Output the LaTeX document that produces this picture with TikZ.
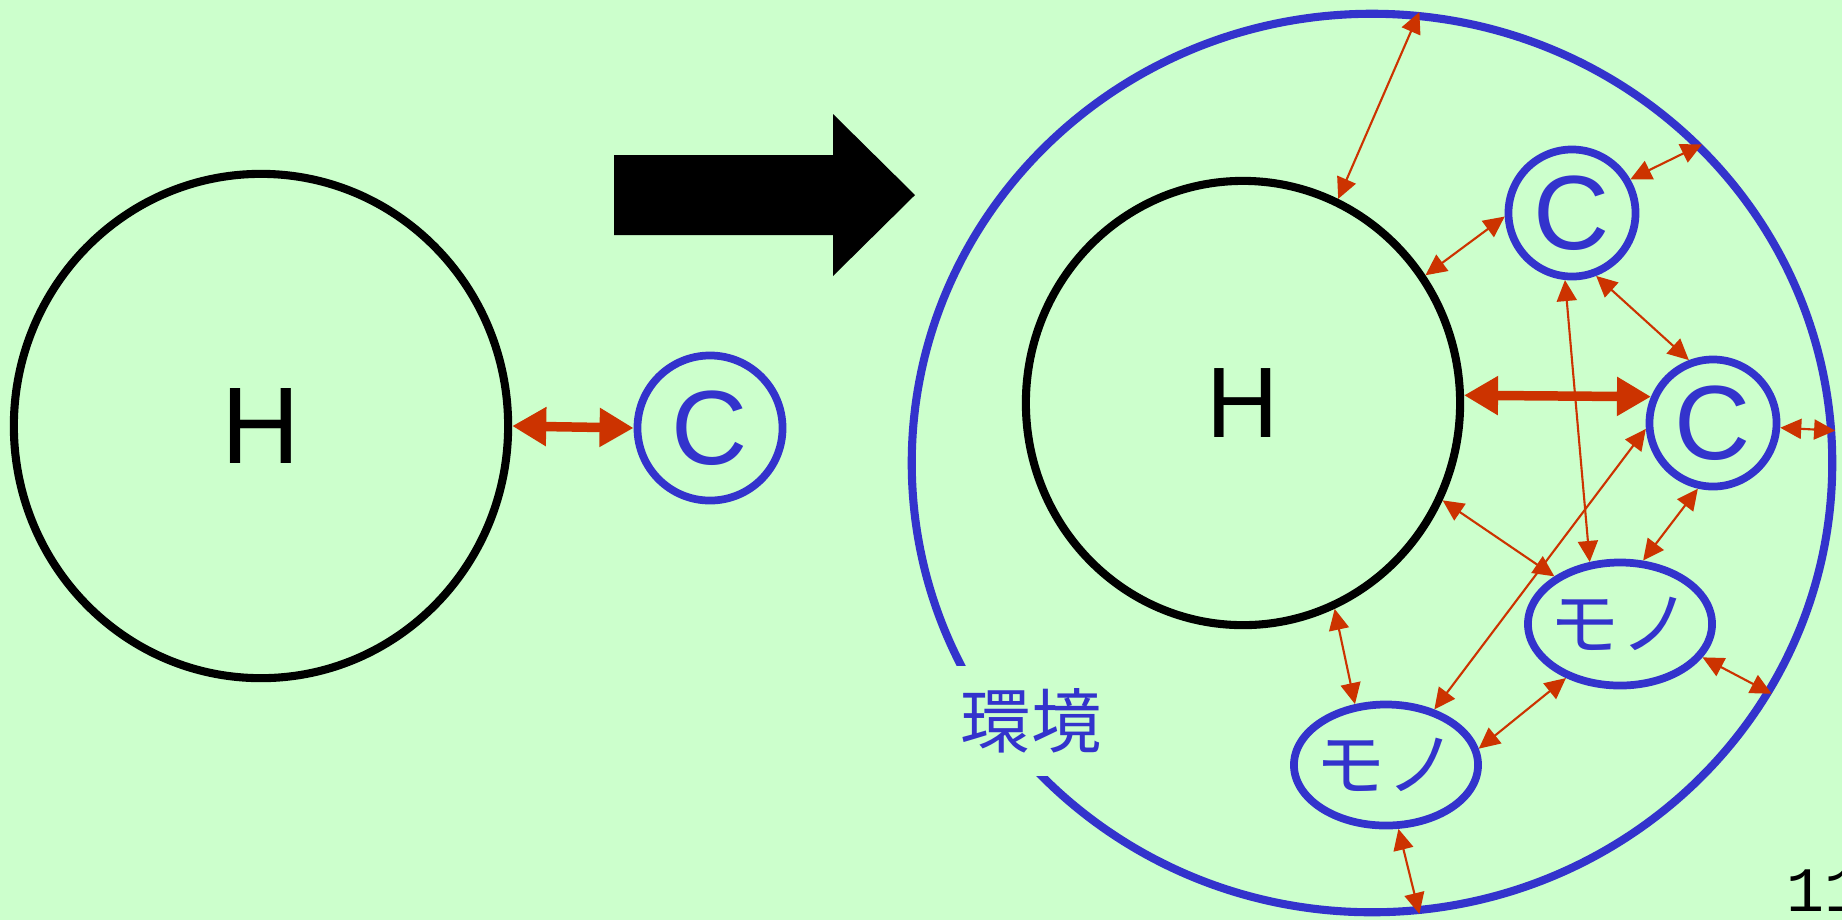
\documentclass[tikz,border=0pt]{standalone}
\usepackage{fontspec}
\setmainfont{Liberation Sans}
\newfontfamily\jpfont{Noto Sans CJK JP}
\newfontfamily\numfont{Liberation Mono}
\usetikzlibrary{shapes.geometric, arrows.meta}
\definecolor{bgreen}{HTML}{CCFFCC}
\definecolor{cblue}{HTML}{3333CC}
\definecolor{ared}{HTML}{CC3300}

\begin{document}
\begin{tikzpicture}[x=0.01cm, y=-0.01cm,
  human/.style={ellipse, draw=black, line width=2.3pt, inner sep=0pt,
                font=\fontsize{31}{31}\selectfont},
  comp/.style={circle, draw=cblue, line width=2.2pt, inner sep=0pt, minimum size=1.27cm,
               text=cblue, font=\fontsize{30}{30}\selectfont},
  thing/.style={ellipse, draw=cblue, line width=2.2pt, inner sep=0pt,
                minimum width=1.84cm, minimum height=1.23cm,
                label={[text=cblue, font=\jpfont\fontsize{20}{20}\selectfont]center:#1}},
  link/.style={draw=ared, line width=0.6pt,
               {Triangle[length=2.1mm,width=2mm]}-{Triangle[length=2.1mm,width=2mm]}},
  biglink/.style={draw=ared, line width=2.7pt,
                  {Triangle[length=3.4mm,width=3.7mm]}-{Triangle[length=3.4mm,width=3.7mm]}},
]
  \path[use as bounding box, fill=bgreen] (0,0) rectangle (1842,920);

  % before
  \node[human, minimum width=4.94cm, minimum height=5.04cm] (h1) at (261,426) {H};
  \node[comp, minimum size=1.45cm] (c1) at (710,428) {C};
  \draw[biglink] (h1.east) -- (c1.west);

  \fill (614,155) -- (833,155) -- (833,114) -- (915,195) -- (833,276) -- (833,235) -- (614,235) -- cycle;

  % after
  \node[ellipse, draw=cblue, line width=2.3pt, minimum width=9.2cm, minimum height=8.98cm] (env) at (1372,463) {};
  \node[fill=bgreen, text=cblue, inner xsep=2pt, minimum height=1.1cm,
        font=\jpfont\fontsize{20}{20}\selectfont] (envlabel) at (1031,721) {環境};
  \node[human, minimum width=4.34cm, minimum height=4.44cm, font=\fontsize{28.5}{28.5}\selectfont] (h2) at (1243,403) {H};
  \node[comp] (ctop) at (1572,213) {C};
  \node[comp] (cright) at (1713,423) {C};
  \node[thing=モノ] (mright) at (1620,624) {};
  \node[thing=モノ, minimum height=1.21cm] (mleft) at (1386,765) {};

  \draw[link] (env.84) -- (h2.65);
  \draw[link] (h2.35) -- (ctop.183);
  \draw[link] (ctop.30) -- (env.44);
  \draw[link] (ctop.291) -- (cright.111);
  \draw[biglink] (h2.2) -- (cright.157);
  \draw[link] (cright.356) -- (env.4);
  \draw[link] (ctop.264) -- (mright.116);
  \draw[link] (cright.185) -- (mleft.49);
  \draw[link] (h2.334) -- (mright.144);
  \draw[link] (cright.257) -- (mright.70);
  \draw[link] (mright.338) -- (env.330);
  \draw[link] (h2.294) -- (mleft.117);
  \draw[link] (mleft.10) -- (mright.225);
  \draw[link] (mleft.281) -- (env.276);

  \node[anchor=base west, inner sep=0pt, font=\numfont\fontsize{18}{18}\selectfont] (page) at (1786,911) {11};
\end{tikzpicture}
\end{document}
